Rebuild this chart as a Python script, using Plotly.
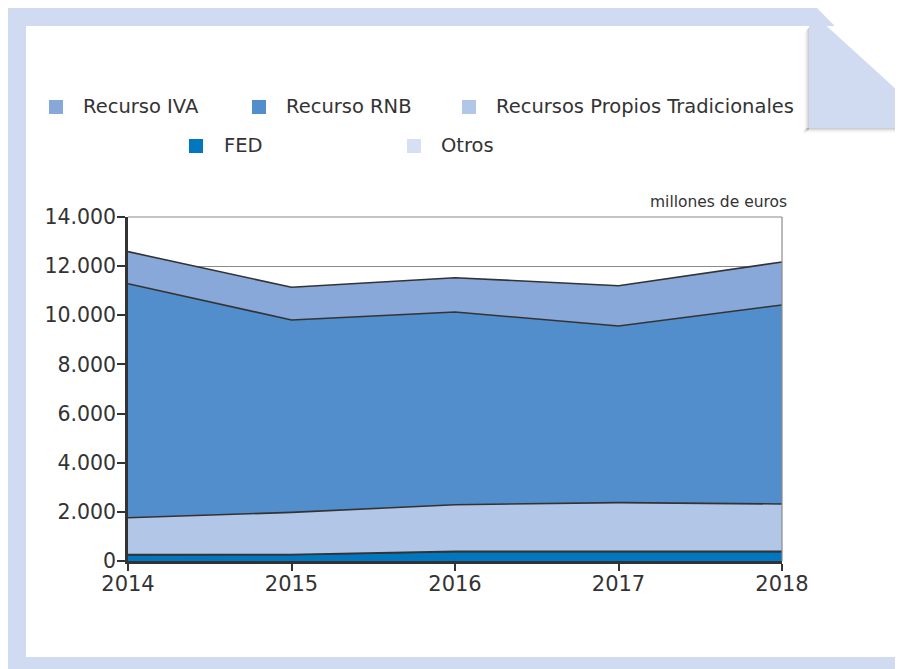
import plotly.graph_objects as go

years = [2014, 2015, 2016, 2017, 2018]
fed = [250, 255, 380, 380, 380]
otros = [10, 10, 10, 10, 10]
rpt = [1500, 1715, 1900, 1985, 1930]
rnb = [9525, 7830, 7845, 7190, 8100]
iva = [1305, 1330, 1395, 1640, 1750]

y_ticks = [0, 2000, 4000, 6000, 8000, 10000, 12000, 14000]
y_tick_labels = ["0", "2.000", "4.000", "6.000", "8.000", "10.000", "12.000", "14.000"]

C_IVA = "#87A8D8"
C_RNB = "#528ECB"
C_RPT = "#B2C6E7"
C_FED = "#0077BE"
C_OTR = "#D7E0F3"
FRAME = "#D0DBF1"
LINE = "#333333"
FONT = "DejaVu Sans"

# page body margin of the browser (8px) -> figure starts at screen (8, 8)
OFF = 8
SW, SH = 903, 669
W, H = SW - OFF, SH - OFF
L, R, T, B = 128, 782, 217, 561  # plot area in screen pixels


def px(x):
    return (x - L) / (R - L)


def py(y):
    return (B - y) / (B - T)


fig = go.Figure()
series = [("FED", fed, C_FED), ("Otros", otros, C_OTR),
          ("Recursos Propios Tradicionales", rpt, C_RPT),
          ("Recurso RNB", rnb, C_RNB), ("Recurso IVA", iva, C_IVA)]
for name, vals, col in series:
    fig.add_trace(go.Scatter(
        x=years, y=vals, name=name, stackgroup="one", mode="lines",
        line=dict(color=LINE, width=1.6), fillcolor=col, showlegend=False,
        hoverinfo="x+y+name"))

shapes = []
# outer frame
shapes.append(dict(type="path", xref="paper", yref="paper", layer="below",
                   path=f"M {px(8)},{py(8)} L {px(817)},{py(8)} L {px(905)},{py(97)} "
                        f"L {px(905)},{py(671)} L {px(8)},{py(671)} Z",
                   fillcolor=FRAME, line=dict(width=0)))
# inner white
shapes.append(dict(type="rect", xref="paper", yref="paper", layer="below",
                   x0=px(26), x1=px(898), y0=py(26), y1=py(657),
                   fillcolor="white", line=dict(width=0)))
# shadows for flap
for i, op in enumerate([0.28, 0.2, 0.12, 0.06, 0.03]):
    shapes.append(dict(type="rect", xref="paper", yref="paper", layer="below",
                       x0=px(809 - i - 1), x1=px(809 - i), y0=py(28 + i), y1=py(130 + i),
                       fillcolor=f"rgba(80,80,80,{op})", line=dict(width=0)))
    shapes.append(dict(type="rect", xref="paper", yref="paper", layer="below",
                       x0=px(806 - i), x1=px(898), y0=py(128 + i), y1=py(129 + i),
                       fillcolor=f"rgba(80,80,80,{op})", line=dict(width=0)))
# flap
shapes.append(dict(type="path", xref="paper", yref="paper", layer="below",
                   path=f"M {px(809)},{py(20)} L {px(820)},{py(20)} L {px(898)},{py(91)} "
                        f"L {px(898)},{py(128)} L {px(809)},{py(128)} Z",
                   fillcolor=FRAME, line=dict(width=0)))
# plot border top/right (gray)
shapes.append(dict(type="line", xref="paper", yref="paper", x0=1, x1=1, y0=0, y1=1,
                   line=dict(color="#8a8a8a", width=1.2)))
shapes.append(dict(type="line", xref="paper", yref="paper", x0=0, x1=1, y0=1, y1=1,
                   line=dict(color="#8a8a8a", width=1.2)))

# legend squares + labels
legend_items = [("Recurso IVA", C_IVA, 49, 81, 106),
                ("Recurso RNB", C_RNB, 252, 284, 106),
                ("Recursos Propios Tradicionales", C_RPT, 462, 494, 106),
                ("FED", C_FED, 189, 222, 145),
                ("Otros", C_OTR, 407, 439, 145)]
annotations = []
for name, col, sx, tx, cy in legend_items:
    shapes.append(dict(type="rect", xref="paper", yref="paper",
                       x0=px(sx), x1=px(sx + 14), y0=py(cy - 6), y1=py(cy + 8),
                       fillcolor=col, line=dict(width=0)))
    annotations.append(dict(text=name, xref="paper", yref="paper", x=px(tx), y=py(cy),
                            xanchor="left", yanchor="middle", showarrow=False,
                            font=dict(family=FONT, size=19.5, color="#333333")))

annotations.append(dict(text="millones de euros", xref="paper", yref="paper",
                        x=px(789), y=py(202), xanchor="right", yanchor="middle",
                        showarrow=False, font=dict(family=FONT, size=15.5, color="#333333")))

fig.update_layout(
    width=W, height=H,
    margin=dict(l=L - OFF, r=SW - R, t=T - OFF, b=SH - B, pad=0),
    paper_bgcolor="white", plot_bgcolor="rgba(0,0,0,0)",
    shapes=shapes, annotations=annotations, showlegend=False,
    font=dict(family=FONT, color="#333333"),
)
fig.update_xaxes(range=[2014, 2018], tickvals=years, ticktext=[str(y) for y in years],
                 showgrid=False, zeroline=False, showline=True, linecolor=LINE, linewidth=2.5,
                 ticks="outside", ticklen=7, tickwidth=2, tickcolor=LINE,
                 ticklabelstandoff=-5,
                 tickfont=dict(family=FONT, size=21, color="#333333"))
fig.update_yaxes(range=[0, 14000], tickvals=y_ticks, ticktext=y_tick_labels,
                 showgrid=True, gridcolor="#8a8a8a", gridwidth=1.2, zeroline=False,
                 showline=True, linecolor=LINE, linewidth=2.5,
                 ticks="outside", ticklen=8, tickwidth=2, tickcolor=LINE,
                 ticklabelstandoff=-3,
                 tickfont=dict(family=FONT, size=20.5, color="#333333"))

fig.write_html("out.html")
